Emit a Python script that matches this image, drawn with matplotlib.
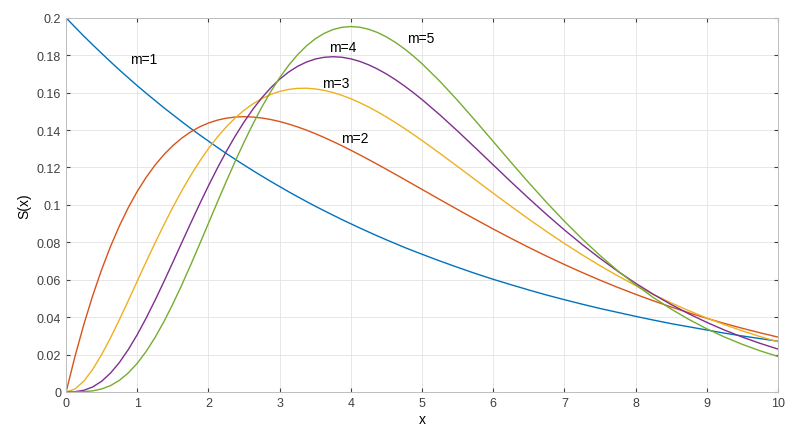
import matplotlib
matplotlib.use("Agg")
import matplotlib.pyplot as plt

# x positions: step 0.125 up to 5, then 0.25 up to 10
x = [i * 0.125 for i in range(41)] + [5 + i * 0.25 for i in range(1, 21)]

# S(x) values
m1 = [0.2000, 0.19506, 0.1902, 0.18555, 0.1810, 0.17650, 0.1721, 0.16789, 0.1637, 0.15970,
      0.1558, 0.15191, 0.1482, 0.14451, 0.1409, 0.13746, 0.1341, 0.13075, 0.1275, 0.12438,
      0.1213, 0.11831, 0.1154, 0.11254, 0.1098, 0.10705, 0.1044, 0.10183, 0.0993, 0.09687,
      0.0945, 0.09214, 0.0899, 0.08765, 0.0855, 0.08337, 0.0813, 0.07931, 0.0773, 0.07544,
      0.0736,
      0.0700, 0.0666, 0.0633, 0.0602, 0.0573, 0.0545, 0.0518, 0.0493, 0.0469,
      0.0446, 0.0425, 0.0404, 0.0384, 0.0365, 0.0348, 0.0331, 0.0314, 0.0299, 0.0285,
      0.0271]
m2 = [0.0, 0.01902, 0.03619, 0.05164, 0.06550, 0.07788, 0.08890, 0.09866, 0.10725, 0.11477,
      0.12131, 0.12693, 0.13172, 0.13573, 0.13904, 0.14171, 0.14379, 0.14532, 0.14637, 0.14696,
      0.14715, 0.14697, 0.14646, 0.14565, 0.14457, 0.14325, 0.14172, 0.13999, 0.13809, 0.13605,
      0.13388, 0.13159, 0.12921, 0.12675, 0.12423, 0.12164, 0.11902, 0.11636, 0.11367, 0.11097,
      0.10827,
      0.10286, 0.09751, 0.09224, 0.08709, 0.08209, 0.07724, 0.07258, 0.06811, 0.06383,
      0.05974, 0.05586, 0.05218, 0.04869, 0.04539, 0.04228, 0.03935, 0.03659, 0.03400, 0.03158,
      0.02931]
m3 = [0.0, 0.00157, 0.00581, 0.01213, 0.02000, 0.02900, 0.03874, 0.04891, 0.05927, 0.06960,
      0.07971, 0.08948, 0.09880, 0.10757, 0.11574, 0.12327, 0.13012, 0.13628, 0.14174, 0.14651,
      0.15061, 0.15405, 0.15686, 0.15905, 0.16067, 0.16174, 0.16230, 0.16238, 0.16201, 0.16123,
      0.16007, 0.15857, 0.15676, 0.15467, 0.15232, 0.14975, 0.14698, 0.14404, 0.14095, 0.13774,
      0.13442,
      0.12756, 0.12050, 0.11336, 0.10624, 0.09922, 0.09236, 0.08573, 0.07936, 0.07327,
      0.06749, 0.06203, 0.05689, 0.05207, 0.04757, 0.04339, 0.03951, 0.03592, 0.03261, 0.02957,
      0.02677]
m4 = [0.0, 0.00012, 0.00087, 0.00267, 0.00572, 0.01011, 0.01581, 0.02271, 0.03067, 0.03952,
      0.04905, 0.05907, 0.06940, 0.07983, 0.09022, 0.10041, 0.11026, 0.11967, 0.12854, 0.13679,
      0.14436, 0.15121, 0.15731, 0.16265, 0.16721, 0.17101, 0.17406, 0.17638, 0.17799, 0.17893,
      0.17923, 0.17894, 0.17809, 0.17673, 0.17489, 0.17263, 0.16998, 0.16698, 0.16367, 0.16010,
      0.15630,
      0.14814, 0.13944, 0.13046, 0.12136, 0.11230, 0.10343, 0.09484, 0.08659, 0.07877,
      0.07140, 0.06449, 0.05808, 0.05215, 0.04670, 0.04170, 0.03716, 0.03303, 0.02929, 0.02593,
      0.02290]
m5 = [0.0, 0.00001, 0.00013, 0.00057, 0.00158, 0.00340, 0.00623, 0.01018, 0.01533, 0.02167,
      0.02914, 0.03766, 0.04707, 0.05721, 0.06791, 0.07898, 0.09022, 0.10147, 0.11255, 0.12331,
      0.13360, 0.14331, 0.15234, 0.16060, 0.16803, 0.17459, 0.18025, 0.18498, 0.18881, 0.19173,
      0.19378, 0.19497, 0.19537, 0.19500, 0.19391, 0.19216, 0.18981, 0.18691, 0.18351, 0.17968,
      0.17547,
      0.16610, 0.15582, 0.14497, 0.13386, 0.12273, 0.11182, 0.10128, 0.09123, 0.08175,
      0.07292, 0.06475, 0.05725, 0.05043, 0.04426, 0.03870, 0.03374, 0.02932, 0.02540, 0.02195,
      0.01892]

series = [m1, m2, m3, m4, m5]
colors = ['#0072BD', '#D95319', '#EDB120', '#7E2F8E', '#77AC30']
labels = ['m=1', 'm=2', 'm=3', 'm=4', 'm=5']
label_pos = [(0.9, 0.178), (3.86, 0.136), (3.6, 0.165), (3.69, 0.1845), (4.79, 0.189)]

plt.rcParams['font.family'] = ['Liberation Sans', 'DejaVu Sans']

fig = plt.figure(figsize=(7.87, 4.39), dpi=100)
ax = fig.add_axes([0.084, 0.105, 0.9046, 0.852])

for s, c in zip(series, colors):
    ax.plot(x, s, color=c, linewidth=1.0)

for lab, (lx, ly) in zip(labels, label_pos):
    ax.text(lx, ly, lab, fontsize=10, va='center', ha='left')

ax.set_xlim(0, 10)
ax.set_ylim(0, 0.2)
ax.set_xticks(range(0, 11))
ax.set_yticks([i * 0.02 for i in range(11)])
ax.set_yticklabels(['0', '0.02', '0.04', '0.06', '0.08', '0.1', '0.12', '0.14',
                    '0.16', '0.18', '0.2'])
ax.grid(True, color='#e3e3e3', linewidth=0.6)
ax.tick_params(direction='in', top=True, right=True, labelsize=9, colors='#404040',
               length=3)
for sp in ax.spines.values():
    sp.set_color('#bdbdbd')
    sp.set_linewidth(0.7)
ax.set_xlabel('x', fontsize=10, labelpad=2)
ax.set_ylabel('S(x)', fontsize=10, labelpad=4)

fig.savefig('out.png', dpi=100)
